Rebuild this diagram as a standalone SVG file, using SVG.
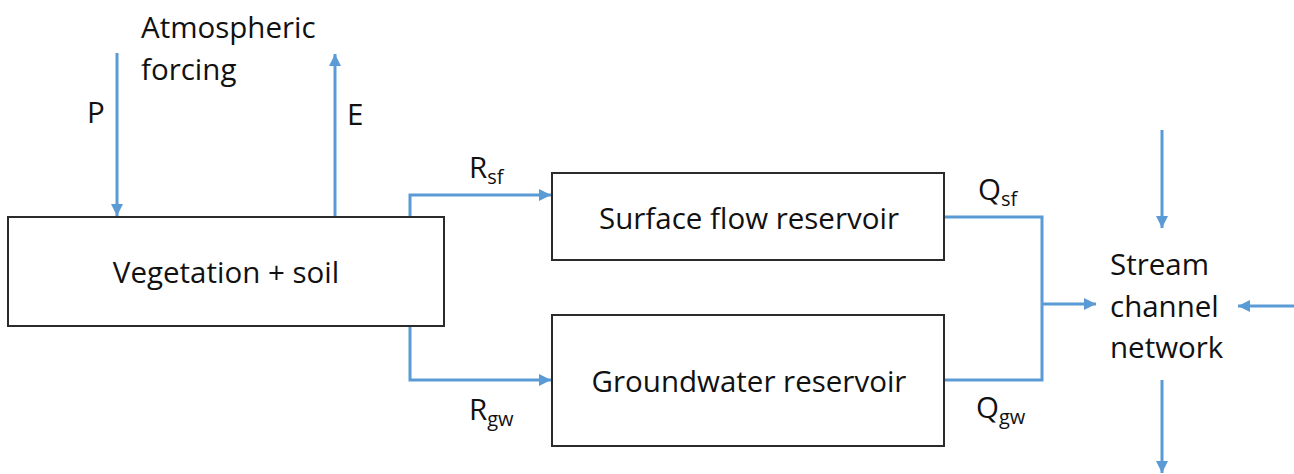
<svg xmlns="http://www.w3.org/2000/svg" width="1294" height="474" viewBox="0 0 1294 474">
<style>
.box{fill:#fff;stroke:#2b2b2b;stroke-width:2}
.t{font-family:"Open Sans","Liberation Sans",sans-serif;font-size:29.5px;fill:#111}
.c{text-anchor:middle}
.sub{font-size:20px}
.ln{fill:none;stroke:#5b9bd5;stroke-width:3;stroke-linejoin:miter}
</style>
<defs>
<marker id="ah" viewBox="0 0 10 10" refX="10" refY="5" markerWidth="4" markerHeight="4" markerUnits="strokeWidth" orient="auto">
<path d="M0,0 L10,5 L0,10 z" fill="#5b9bd5"/>
</marker>
</defs>
<rect width="1294" height="474" fill="#fff"/>
<g id="connectors">
<line class="ln" x1="117" y1="53" x2="117" y2="216" marker-end="url(#ah)"/>
<line class="ln" x1="335" y1="216" x2="335" y2="54" marker-end="url(#ah)"/>
<polyline class="ln" points="410,216 410,195 551,195" marker-end="url(#ah)"/>
<polyline class="ln" points="410,326 410,380 551,380" marker-end="url(#ah)"/>
<polyline class="ln" points="945,217 1042,217 1042,380 945,380"/>
<line class="ln" x1="1042" y1="304" x2="1096" y2="304" marker-end="url(#ah)"/>
<line class="ln" x1="1162" y1="130" x2="1162" y2="228" marker-end="url(#ah)"/>
<line class="ln" x1="1294" y1="306" x2="1238" y2="306" marker-end="url(#ah)"/>
<line class="ln" x1="1162" y1="380" x2="1162" y2="473" marker-end="url(#ah)"/>
</g>
<g id="atmosphere">
<text class="t" x="141" y="38">Atmospheric</text>
<text class="t" x="141" y="80">forcing</text>
</g>
<g id="labels">
<text class="t" x="87" y="123">P</text>
<text class="t" x="347" y="125">E</text>
<text class="t" x="469" y="178">R<tspan class="sub" dy="6">sf</tspan></text>
<text class="t" x="469" y="420">R<tspan class="sub" dy="6">gw</tspan></text>
<text class="t" x="978" y="200">Q<tspan class="sub" dy="6">sf</tspan></text>
<text class="t" x="976" y="418">Q<tspan class="sub" dy="6">gw</tspan></text>
</g>
<g id="vegetation">
<rect class="box" x="8" y="217" width="436" height="109"/>
<text class="t c" x="226" y="283">Vegetation + soil</text>
</g>
<g id="surface">
<rect class="box" x="552" y="173" width="392" height="87"/>
<text class="t c" x="749" y="229">Surface flow reservoir</text>
</g>
<g id="groundwater">
<rect class="box" x="552" y="315" width="392" height="131"/>
<text class="t c" x="749" y="392">Groundwater reservoir</text>
</g>
<g id="stream">
<text class="t" x="1110" y="275">Stream</text>
<text class="t" x="1110" y="317">channel</text>
<text class="t" x="1110" y="358">network</text>
</g>
</svg>
